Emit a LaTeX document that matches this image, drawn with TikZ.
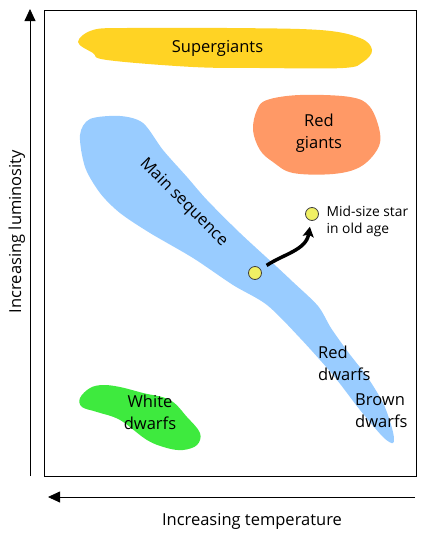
\documentclass[tikz,border=0pt]{standalone}
\usepackage{fontspec}
\setmainfont{Open Sans}
\usepackage{tikz}
\usetikzlibrary{arrows.meta}
\definecolor{sgyellow}{RGB}{255,211,36}
\definecolor{rgorange}{RGB}{255,153,102}
\definecolor{msblue}{RGB}{153,204,255}
\definecolor{wdgreen}{RGB}{62,234,62}
\definecolor{starfill}{RGB}{240,240,100}

\begin{document}
\begin{tikzpicture}[
  x=1pt, y=-1pt,
  every node/.style={font=\fontsize{16.5}{22}\selectfont, inner sep=0pt},
  region/.style={draw=none, fill=#1},
  lbl/.style={align=center},
  note/.style={font=\fontsize{13.8}{17}\selectfont, align=left, anchor=west},
  axis/.style={line width=0.8pt, -{Triangle[length=12pt,width=11pt]}},
  star/.style={circle, draw=black!75, line width=0.8pt, fill=starfill, minimum size=13pt},
  agepath/.style={line width=3.5pt, -{Stealth[length=10pt,width=11pt,inset=2pt]},
                  shorten <=7pt, shorten >=6pt}
]
\useasboundingbox (0,0) rectangle (427,541);
% frame and axes
\draw[line width=1pt] (44,10) rectangle (416,476);
\draw[axis] (30,476) -- (30,9);
\draw[axis] (415,497) -- (48,497);
\node[rotate=90, anchor=base] (lum) at (21,231.5) {Increasing luminosity};
\node[anchor=base] (temp) at (252,525) {Increasing temperature};
% regions of the diagram
\fill[region=sgyellow] plot[smooth cycle, tension=0.6] coordinates {
  (78,42) (93,30) (127,28) (227,28) (320,30) (360,38) (372,50) (363,62)
  (343,68) (260,68) (193,67) (107,60) (93,53)};
\fill[region=rgorange] plot[smooth cycle, tension=0.6] coordinates {
  (257,110) (267,100) (300,95) (350,97) (370,107) (380,133) (377,150) (360,167)
  (333,174) (293,173) (273,162) (260,150) (253,130)};
\fill[region=msblue] plot[smooth cycle, tension=0.5] coordinates {
  (80,135) (90,119) (120,116) (143,123) (163,150) (187,177) (207,200) (240,233)
  (277,267) (293,282) (318,306) (331,328) (348,352) (368,378) (384,405) (393,432)
  (393,443) (383,437) (360,410) (333,375) (300,338) (267,305) (233,285) (193,258)
  (150,233) (120,213) (100,193) (85,167)};
\fill[region=wdgreen] plot[smooth cycle, tension=0.6] coordinates {
  (80,398) (90,388) (103,385) (120,387) (143,393) (170,400) (187,417) (200,433)
  (197,445) (183,450) (167,448) (147,440) (120,420) (97,412) (82,407)};
% labels
\node[anchor=base] (sg) at (217.5,52.3) {Supergiants};
\node[lbl] (rg) at (319,132.8) {Red\\giants};
\node[rotate=-45] (ms) at (183.5,202.5) {Main sequence};
\node[lbl] (wd) at (150,412.6) {White\\dwarfs};
\node[lbl, align=left, anchor=west] (rd) at (318,363) {Red\\dwarfs};
\node[lbl, align=left, anchor=west] (bd) at (355,410.3) {Brown\\dwarfs};
% the star moving off the main sequence
\node[star] (lowstar) at (255,273) {};
\node[star] (oldstar) at (312,214) {};
\node[note] (oldtxt) at (326.5,221) {Mid-size star\\in old age};
\draw[agepath] (lowstar) .. controls (284,254) and (306,250) .. (oldstar);
\end{tikzpicture}
\end{document}
